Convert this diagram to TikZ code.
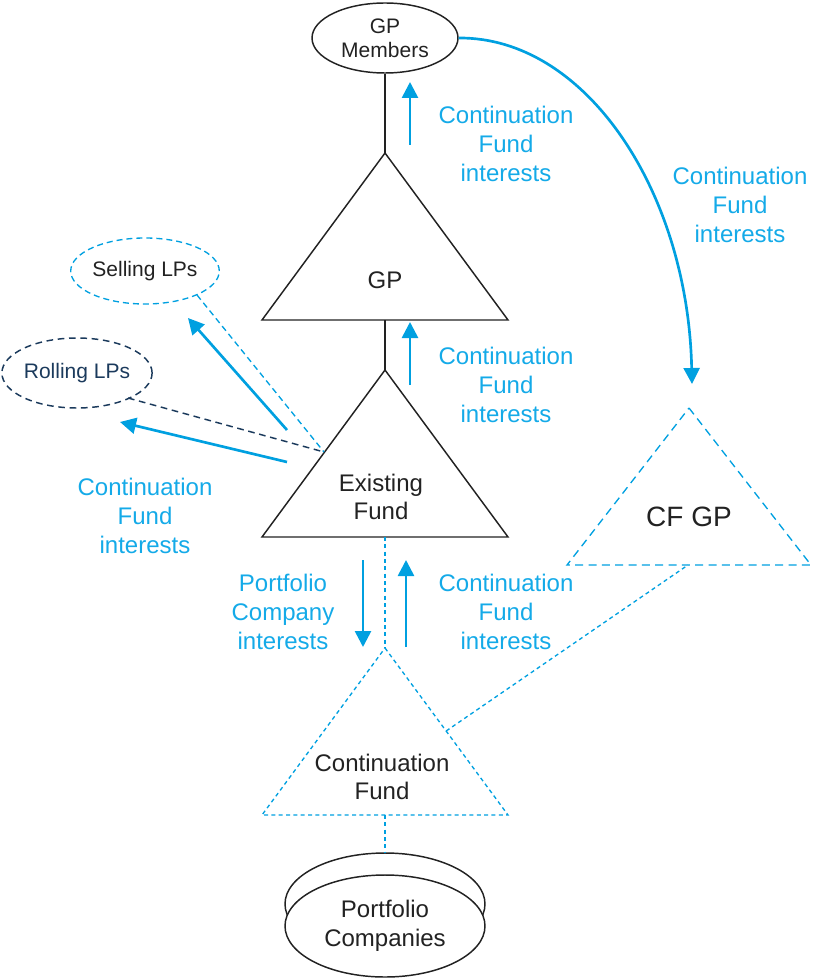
\documentclass[tikz,border=0pt]{standalone}
\usepackage{fontspec}
\setmainfont{Liberation Sans}
\usetikzlibrary{shapes.geometric,arrows.meta,calc}
\definecolor{cfblue}{HTML}{00A0E0}
\definecolor{lblblue}{HTML}{14AAE8}
\definecolor{navy}{HTML}{1B3A5C}
\definecolor{ink}{HTML}{222222}
\begin{document}
\begin{tikzpicture}[x=0.75pt,y=-0.75pt,
  lbl/.style={text=lblblue, font=\fontsize{18}{21.75}\selectfont, align=center, inner sep=0pt},
  nodetxt/.style={text=ink, font=\fontsize{18}{21}\selectfont, align=center, inner sep=0pt},
  solidtri/.style={draw=ink, line width=1.1pt, line join=miter},
  dashtri/.style={draw=cfblue, line width=1pt, dash pattern=on 3pt off 2.5pt},
  bigdash/.style={draw=cfblue, line width=1pt, dash pattern=on 6pt off 4pt},
  flow/.style={draw=cfblue, line width=2pt, -{Triangle[length=12pt,width=12pt]}},
  blob/.style={ellipse, draw=ink, line width=1.1pt, inner sep=0pt, align=center, text=ink}
]
\useasboundingbox (0,0) rectangle (813,980);

% ---------- nodes ----------
\node[blob, minimum width=109.5pt, minimum height=52.5pt,
      font=\fontsize{15.75}{18}\selectfont] (gpm) at (385,38) {GP\\Members};
\node[ellipse, draw=cfblue, line width=1pt, dash pattern=on 4.5pt off 3pt,
      minimum width=109.5pt, minimum height=49.5pt, inner sep=0pt, text=ink,
      font=\fontsize{15.75}{18}\selectfont] (sell) at (145,271) {Selling LPs};
\node[ellipse, draw=navy, line width=1.1pt, dash pattern=on 5pt off 3.5pt,
      minimum width=108pt, minimum height=52.5pt, inner sep=0pt, text=navy,
      font=\fontsize{15.75}{18}\selectfont] (roll) at (77,373) {Rolling LPs};

% GP triangle
\coordinate (gpA) at (385,153);
\coordinate (gpL) at (262,320);
\coordinate (gpR) at (508,320);
\coordinate (gpB) at (385,320);
\draw[solidtri] (gpA) -- (gpR) -- (gpL) -- cycle;
\node[nodetxt] (gptxt) at (385,280) {GP};

% Existing Fund triangle
\coordinate (efA) at (385,370);
\coordinate (efL) at (262,537);
\coordinate (efR) at (508,537);
\coordinate (efB) at (385,537);
\draw[solidtri] (efA) -- (efR) -- (efL) -- cycle;
\node[nodetxt] (eftxt) at (381,497) {Existing\\Fund};

% Continuation Fund triangle
\coordinate (cfA) at (385,648);
\coordinate (cfL) at (262,815);
\coordinate (cfR) at (508,815);
\coordinate (cfB) at (385,815);
\draw[dashtri] (cfA) -- (cfR) -- (cfL) -- cycle;
\node[nodetxt] (cftxt) at (382,777) {Continuation\\Fund};

% CF GP triangle
\coordinate (cgA) at (689,408);
\coordinate (cgL) at (567,565);
\coordinate (cgR) at (811,565);
\draw[bigdash] (cgA) -- (cgR) -- (cgL) -- cycle;
\node[nodetxt, font=\fontsize{21}{24}\selectfont] (cgtxt) at (689,517) {CF GP};

% Portfolio companies
\node[blob, minimum width=150pt, minimum height=76.5pt] (pcback) at (385,904) {};
\node[blob, fill=white, minimum width=150pt, minimum height=76.5pt,
      font=\fontsize{18}{21.75}\selectfont] (pc) at (385,926) {Portfolio\\Companies};

% ---------- structural connectors ----------
\draw[solidtri] (gpm.south) -- (gpA);
\draw[solidtri] (gpB) -- (efA);
\draw[dashtri] (efB) -- (cfA);
\draw[dashtri] (cfB) -- (pcback.north);

\coordinate (efLP) at (324,452);
\coordinate (sellP) at (197,295);
\coordinate (rollP) at (128,398);
\draw[draw=cfblue, line width=1pt, dash pattern=on 4.5pt off 3pt] (sellP) -- (efLP);
\draw[draw=navy, line width=1.1pt, dash pattern=on 5pt off 3.5pt] (rollP) -- (efLP);

\coordinate (cfRp) at ($(cfA)!0.497!(cfR)$);
\coordinate (cgBp) at (688,565);
\draw[dashtri] (cfRp) -- (cgBp);

% ---------- flow arrows ----------
\coordinate (a1s) at (410,145); \coordinate (a1e) at (410,82);
\coordinate (a2s) at (410,385); \coordinate (a2e) at (410,322);
\coordinate (a3s) at (406,647); \coordinate (a3e) at (406,560);
\coordinate (a4s) at (363,560); \coordinate (a4e) at (363,647);
\coordinate (a5s) at (287,430); \coordinate (a5e) at (188,318);
\coordinate (a6s) at (287,462); \coordinate (a6e) at (120,422);
\coordinate (cgtip) at (692,384);
\draw[flow] (a1s) -- (a1e);
\draw[flow] (a2s) -- (a2e);
\draw[flow] (a3s) -- (a3e);
\draw[flow] (a4s) -- (a4e);
\draw[flow] (a5s) -- (a5e);
\draw[flow] (a6s) -- (a6e);
\draw[flow] (gpm.east) .. controls (586,37) and (688,192) .. (cgtip);

% ---------- labels ----------
\node[lbl] (l1) at (506,144) {Continuation\\Fund\\interests};
\node[lbl] (l2) at (506,385) {Continuation\\Fund\\interests};
\node[lbl] (l3) at (506,612) {Continuation\\Fund\\interests};
\node[lbl] (l4) at (740,205) {Continuation\\Fund\\interests};
\node[lbl] (l5) at (145,516) {Continuation\\Fund\\interests};
\node[lbl] (l6) at (283,612) {Portfolio\\Company\\interests};
\end{tikzpicture}
\end{document}
